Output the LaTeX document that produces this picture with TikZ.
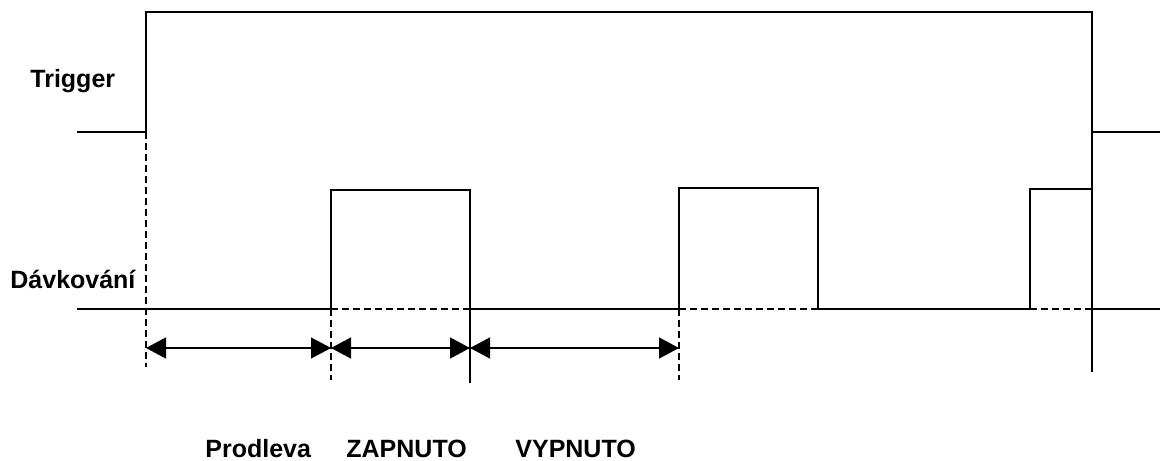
\documentclass[tikz,border=0pt]{standalone}
\usepackage{fontspec}
\setmainfont{Liberation Sans}
\usetikzlibrary{arrows.meta}

\begin{document}
\begin{tikzpicture}[x=0.5pt,y=-0.5pt]
    \tikzset{wave/.style={line width=1pt}}
    \tikzset{guide/.style={line width=0.9pt, dash pattern=on 3.5pt off 2pt}}
    \tikzset{span/.style={line width=0.7pt, {Triangle[length=10pt,width=10.5pt]}-{Triangle[length=10pt,width=10.5pt]}}}
    \tikzset{sigtext/.style={anchor=base west, inner sep=0pt, font=\bfseries\fontsize{12.5}{15}\selectfont}}
    \useasboundingbox (0,0) rectangle (1175,461);
    % trigger signal
    \coordinate (t0) at (77,132);
    \coordinate (t1) at (146,132);
    \coordinate (t2) at (146,12);
    \coordinate (t3) at (1092,12);
    \coordinate (t4) at (1092,132);
    \coordinate (t5) at (1160,132);
    \coordinate (tend) at (1092,372);
    \draw[wave] (t0) -- (t1) -- (t2) -- (t3) -- (tend);
    \draw[wave] (t4) -- (t5);
    % dosing pulses
    \coordinate (d0) at (77,309);
    \coordinate (d1) at (1160,309);
    \foreach \n/\a/\b/\h in {1/331/470/190, 2/679/818/188, 3/1030/1092/189} {
      \coordinate (p\n a) at (\a,309);
      \coordinate (p\n b) at (\b,309);
      \draw[wave] (p\n a) -- (\a,\h) -- (\b,\h) -- (p\n b);
      \draw[guide] (p\n a) -- (p\n b);
    }
    \draw[wave] (d0) -- (p1a);
    \draw[wave] (p1b) -- (p2a);
    \draw[wave] (p2b) -- (p3a);
    \draw[wave] (p3b) -- (d1);
    % time marks
    \coordinate (g0) at (146,367);
    \coordinate (g1) at (331,380);
    \coordinate (g2) at (470,383);
    \coordinate (g3) at (679,380);
    \draw[guide] (t1) -- (g0);
    \draw[guide] (p1a) -- (g1);
    \draw[wave] (p1b) -- (g2);
    \draw[guide] (p2a) -- (g3);
    \coordinate (a0) at (146,348);
    \coordinate (a1) at (331,348);
    \coordinate (a2) at (470,348);
    \coordinate (a3) at (679,348);
    \draw[span] (a0) -- (a1);
    \draw[span] (a1) -- (a2);
    \draw[span] (a2) -- (a3);
    % labels
    \node[sigtext] (trig) at (30,87) {Trigger};
    \node[sigtext] (davk) at (10,288) {Dávkování};
    \node[sigtext] (prod) at (205,457) {Prodleva};
    \node[sigtext] (zap) at (346,457) {ZAPNUTO};
    \node[sigtext] (vyp) at (515,457) {VYPNUTO};
\end{tikzpicture}
\end{document}
